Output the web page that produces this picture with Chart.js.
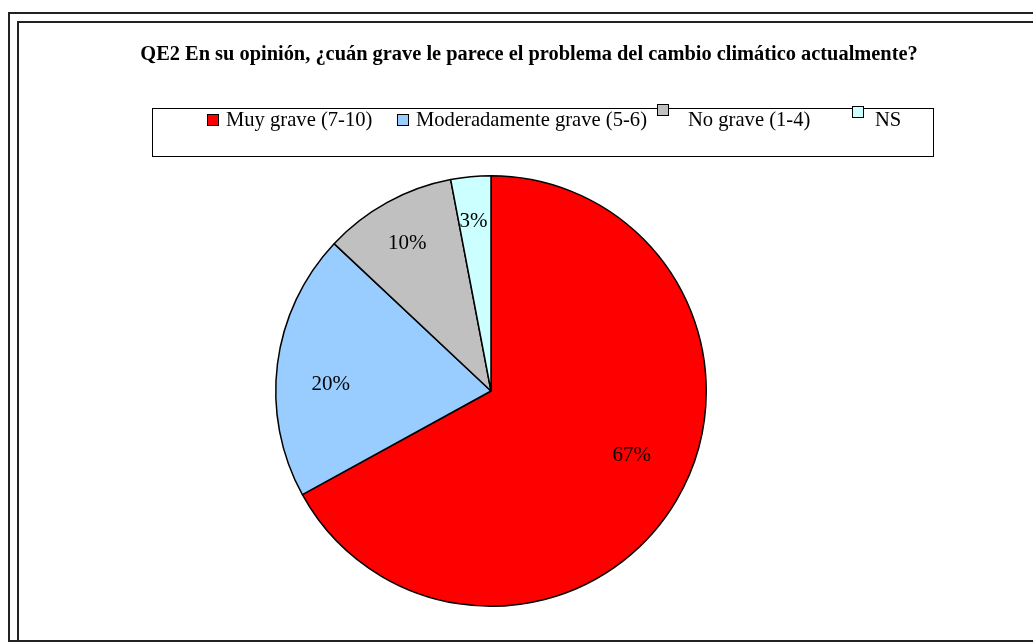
<!DOCTYPE html>
<html>
<head>
<meta charset="utf-8">
<script src="https://cdn.jsdelivr.net/npm/chart.js@4"></script>
<style>
  body { margin: 0; background: #fff; }
  #wrap { width: 1033px; height: 643px; position: relative; }
</style>
</head>
<body>
<div id="wrap"><canvas id="pie"></canvas></div>
<script>
var chartTitle = 'QE2 En su opinión, ¿cuán grave le parece el problema del cambio climático actualmente?'
var cateNames = ['Muy grave (7-10)', 'Moderadamente grave (5-6)', 'No grave (1-4)', 'NS']
var percents = [67, 20, 10, 3]
var sliceColors = ['#FF0000', '#99CCFF', '#C0C0C0', '#CCFFFF']

// legend item spots inside the boxed legend (box x, box y, text x)
var legendSpots = [
    [207, 114, 226],
    [397, 114, 416],
    [657, 104, 688],
    [852, 106, 875]
]
// small hand nudges so the slice labels sit where the original has them
var labelNudge = [[0, -19], [2, 14], [-5, -4], [-2, -7]]

var serif = '"Liberation Serif", "Times New Roman", serif'

var framePlugin = {
    id: 'frame',
    beforeDraw: function (chart) {
        var c = chart.ctx
        c.save()
        c.fillStyle = '#fff'
        c.fillRect(0, 0, chart.width, chart.height)
        c.strokeStyle = '#222'
        c.lineWidth = 2
        c.strokeRect(9, 13, 1100, 628)
        c.strokeRect(18, 22, 1100, 619)
        c.restore()
    },
    afterDraw: function (chart) {
        var c = chart.ctx
        c.save()
        // title
        c.fillStyle = '#000'
        c.font = 'bold 20.4px ' + serif
        c.textAlign = 'center'
        c.textBaseline = 'middle'
        c.fillText(chartTitle, 529, 55)

        // legend box
        c.strokeStyle = '#000'
        c.lineWidth = 1
        c.strokeRect(152.5, 108.5, 781, 48)
        c.font = '20.6px ' + serif
        c.textAlign = 'left'
        for (var i = 0; i < cateNames.length; i++) {
            var s = legendSpots[i]
            c.fillStyle = sliceColors[i]
            c.fillRect(s[0], s[1], 11, 11)
            c.strokeRect(s[0] + 0.5, s[1] + 0.5, 11, 11)
            c.fillStyle = '#000'
            c.fillText(cateNames[i], s[2], 121)
        }

        // percent labels on slices
        var arcs = chart.getDatasetMeta(0).data
        c.font = '21px ' + serif
        c.textAlign = 'center'
        for (var j = 0; j < arcs.length; j++) {
            var a = arcs[j]
            var mid = (a.startAngle + a.endAngle) / 2
            var r = a.outerRadius * 0.76
            c.fillText(percents[j] + '%', a.x + Math.cos(mid) * r + labelNudge[j][0], a.y + Math.sin(mid) * r + labelNudge[j][1])
        }
        c.restore()
    }
}

const ctx = document.getElementById('pie');
new Chart(ctx, {
    type: 'pie',
    data: {
        labels: cateNames,
        datasets: [{
            data: percents,
            backgroundColor: sliceColors,
            borderColor: '#000',
            borderWidth: 1.5
        }]
    },
    options: {
        responsive: true,
        maintainAspectRatio: false,
        animation: false,
        layout: {
            padding: { top: 175, bottom: 36, left: 275, right: 326 }
        },
        plugins: {
            legend: { display: false },
            tooltip: { enabled: false },
            title: { display: false }
        }
    },
    plugins: [framePlugin]
});
</script>
</body>
</html>
